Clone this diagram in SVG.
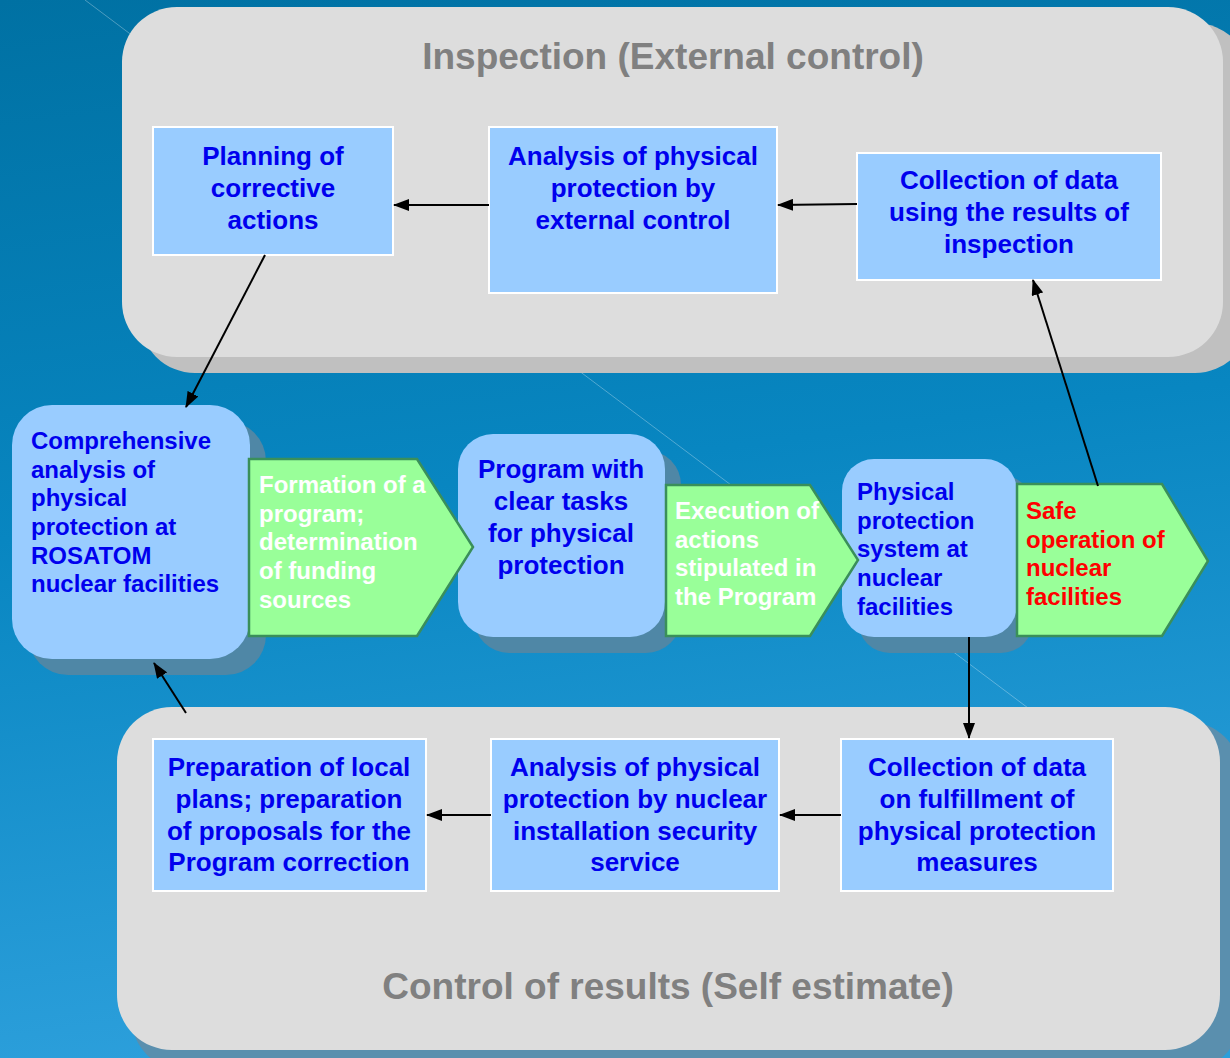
<svg xmlns="http://www.w3.org/2000/svg" width="1230" height="1058" viewBox="0 0 1230 1058">
<defs>
<linearGradient id="bg" x1="0" y1="0" x2="0.15" y2="1">
<stop offset="0" stop-color="#0071a3"/>
<stop offset="0.5" stop-color="#0886c1"/>
<stop offset="1" stop-color="#2c9fdb"/>
</linearGradient>
<marker id="ah" markerUnits="userSpaceOnUse" markerWidth="16" markerHeight="12" refX="15" refY="6" orient="auto">
<path d="M0,0 L16,6 L0,12 z" fill="#000"/>
</marker>
<style>
.rect{fill:#99ccff;stroke:#ffffff;stroke-width:2}
.rbox{fill:#99ccff}
.rsh{fill:#4f87a6}
.green{fill:#99ff99;stroke:#3a8f5a;stroke-width:2.5}
.t26{font-family:"Liberation Sans",Arial,sans-serif;font-weight:bold;font-size:26px;fill:#0000ee;text-anchor:middle}
.t24{font-family:"Liberation Sans",Arial,sans-serif;font-weight:bold;font-size:24px;fill:#0000ee}
.tw{fill:#ffffff}
.tr{fill:#ff0000}
.title{font-family:"Liberation Sans",Arial,sans-serif;font-weight:bold;font-size:37px;fill:#808080;text-anchor:middle}
.conn{stroke:#000;stroke-width:2;fill:none;marker-end:url(#ah)}
</style>
</defs>
<rect x="0" y="0" width="1230" height="1058" fill="url(#bg)"/>
<line x1="85" y1="0" x2="1060" y2="732" stroke="#ffffff" stroke-opacity="0.3" stroke-width="1"/>

<g id="panel-inspection">
<rect x="140" y="23" width="1110" height="350" rx="55" fill="#c0c0c0"/>
<rect x="122" y="7" width="1101" height="350" rx="55" fill="#dddddd"/>
<text class="title" x="673" y="69">Inspection (External control)</text>
</g>
<g id="panel-control">
<rect x="131" y="721" width="1110" height="350" rx="55" fill="#5a8fae"/>
<rect x="117" y="707" width="1103" height="343" rx="55" fill="#dddddd"/>
<text class="title" x="668" y="999">Control of results (Self estimate)</text>
</g>

<g id="planning">
<rect class="rect" x="153" y="127" width="240" height="128"/>
<text class="t26" x="273" y="165">Planning of</text>
<text class="t26" x="273" y="197">corrective</text>
<text class="t26" x="273" y="229">actions</text>
</g>
<g id="analysis-external">
<rect class="rect" x="489" y="127" width="288" height="166"/>
<text class="t26" x="633" y="165">Analysis of physical</text>
<text class="t26" x="633" y="197">protection by</text>
<text class="t26" x="633" y="229">external control</text>
</g>
<g id="collection-inspection">
<rect class="rect" x="857" y="153" width="304" height="127"/>
<text class="t26" x="1009" y="189">Collection of data</text>
<text class="t26" x="1009" y="221">using the results of</text>
<text class="t26" x="1009" y="253">inspection</text>
</g>

<g id="comprehensive">
<rect class="rsh" x="28" y="421" width="238" height="254" rx="40"/>
<rect class="rbox" x="12" y="405" width="238" height="254" rx="40"/>
<text class="t24" x="31" y="449">Comprehensive</text>
<text class="t24" x="31" y="478">analysis of</text>
<text class="t24" x="31" y="506">physical</text>
<text class="t24" x="31" y="535">protection at</text>
<text class="t24" x="31" y="564">ROSATOM</text>
<text class="t24" x="31" y="592">nuclear facilities</text>
</g>
<g id="program">
<rect class="rsh" x="474" y="450" width="207" height="203" rx="35"/>
<rect class="rbox" x="458" y="434" width="207" height="203" rx="35"/>
<text class="t26" x="561" y="478">Program with</text>
<text class="t26" x="561" y="510">clear tasks</text>
<text class="t26" x="561" y="542">for physical</text>
<text class="t26" x="561" y="574">protection</text>
</g>
<g id="pp-system">
<rect class="rsh" x="858" y="475" width="175" height="178" rx="32"/>
<rect class="rbox" x="842" y="459" width="175" height="178" rx="32"/>
<text class="t24" x="857" y="500">Physical</text>
<text class="t24" x="857" y="529">protection</text>
<text class="t24" x="857" y="557">system at</text>
<text class="t24" x="857" y="586">nuclear</text>
<text class="t24" x="857" y="615">facilities</text>
</g>
<g id="formation">
<polygon class="green" points="249,459 417,459 473,547 417,636 249,636"/>
<text class="t24 tw" x="259" y="493">Formation of a</text>
<text class="t24 tw" x="259" y="522">program;</text>
<text class="t24 tw" x="259" y="550">determination</text>
<text class="t24 tw" x="259" y="579">of funding</text>
<text class="t24 tw" x="259" y="608">sources</text>
</g>
<g id="execution">
<polygon class="green" points="666,485 810,485 858,560 810,636 666,636"/>
<text class="t24 tw" x="675" y="519">Execution of</text>
<text class="t24 tw" x="675" y="548">actions</text>
<text class="t24 tw" x="675" y="576">stipulated in</text>
<text class="t24 tw" x="675" y="605">the Program</text>
</g>
<g id="safe-operation">
<polygon class="green" points="1017,484 1162,484 1208,561 1162,636 1017,636"/>
<text class="t24 tr" x="1026" y="519">Safe</text>
<text class="t24 tr" x="1026" y="548">operation of</text>
<text class="t24 tr" x="1026" y="576">nuclear</text>
<text class="t24 tr" x="1026" y="605">facilities</text>
</g>

<g id="preparation">
<rect class="rect" x="153" y="739" width="273" height="152"/>
<text class="t26" x="289" y="776">Preparation of local</text>
<text class="t26" x="289" y="808">plans; preparation</text>
<text class="t26" x="289" y="840">of proposals for the</text>
<text class="t26" x="289" y="871">Program correction</text>
</g>
<g id="analysis-nuclear">
<rect class="rect" x="491" y="739" width="288" height="152"/>
<text class="t26" x="635" y="776">Analysis of physical</text>
<text class="t26" x="635" y="808">protection by nuclear</text>
<text class="t26" x="635" y="840">installation security</text>
<text class="t26" x="635" y="871">service</text>
</g>
<g id="collection-fulfillment">
<rect class="rect" x="841" y="739" width="272" height="152"/>
<text class="t26" x="977" y="776">Collection of data</text>
<text class="t26" x="977" y="808">on fulfillment of</text>
<text class="t26" x="977" y="840">physical protection</text>
<text class="t26" x="977" y="871">measures</text>
</g>

<g id="connectors">
<line class="conn" x1="489" y1="205" x2="394" y2="205"/>
<line class="conn" x1="857" y1="204" x2="778" y2="205"/>
<line class="conn" x1="265" y1="255" x2="186" y2="407"/>
<line class="conn" x1="1098" y1="486" x2="1033" y2="280"/>
<line class="conn" x1="969" y1="637" x2="969" y2="738"/>
<line class="conn" x1="841" y1="815" x2="780" y2="815"/>
<line class="conn" x1="491" y1="815" x2="427" y2="815"/>
<line class="conn" x1="186" y1="713" x2="154" y2="663"/>
</g>
</svg>
